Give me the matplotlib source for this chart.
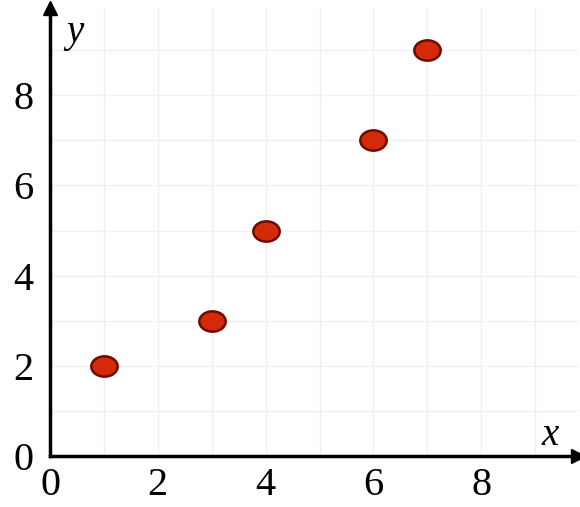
import matplotlib.pyplot as plt
from matplotlib.path import Path
import numpy as np

# 数据点
x = [1, 3, 4, 6, 7]
y = [2, 3, 5, 7, 9]
xticks = [0, 2, 4, 6, 8]
yticks = [0, 2, 4, 6, 8]

plt.rcParams['font.family'] = ['Liberation Serif', 'DejaVu Serif']

fig = plt.figure(figsize=(5.8, 5.07), dpi=100)
ax = fig.add_axes([50 / 580, 51 / 507, 528 / 580, 448 / 507])

ax.set_xlim(0, 528 / 53.9)
ax.set_ylim(0, 448 / 45.1)

# 网格
for i in range(1, 10):
    ax.axvline(i, color='#f0f0f0', lw=1, zorder=0)
    ax.axhline(i, color='#f0f0f0', lw=1, zorder=0)

# 椭圆形点
circ = Path.unit_circle()
ell = Path(circ.vertices * np.array([1.3, 1.0]), circ.codes)
ax.plot(x, y, linestyle='none', marker=ell, markersize=19,
        markerfacecolor='#d42a0c', markeredgecolor='#6e0a00', markeredgewidth=1.8, zorder=3)

for s in ['top', 'right']:
    ax.spines[s].set_visible(False)
for s in ['left', 'bottom']:
    ax.spines[s].set_linewidth(2.5)
    ax.spines[s].set_color('black')

# 箭头
ax.plot(1, 0, '>k', markersize=10, transform=ax.get_yaxis_transform(), clip_on=False)
ax.plot(0, 1, '^k', markersize=10, transform=ax.get_xaxis_transform(), clip_on=False)

ax.set_xticks(xticks)
ax.set_yticks(yticks)
ax.tick_params(length=0, labelsize=29)
ax.tick_params(axis='x', pad=8)
ax.tick_params(axis='y', pad=12)

ax.text(0.03, 0.925, 'y', transform=ax.transAxes, fontsize=28, style='italic')
ax.text(0.93, 0.025, 'x', transform=ax.transAxes, fontsize=28, style='italic')

plt.savefig('out.png', dpi=100)
